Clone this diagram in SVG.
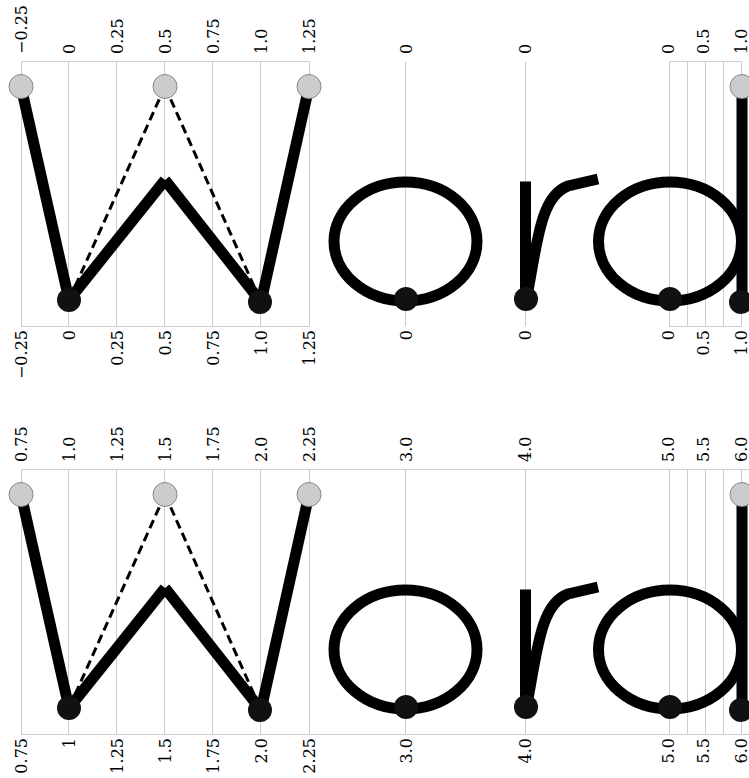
<svg xmlns="http://www.w3.org/2000/svg" width="749" height="778" viewBox="0 0 749 778">
<style>
.grid{stroke:#cccccc;stroke-width:1;fill:none}
.lbl{font-family:"DejaVu Serif","Liberation Serif",serif;font-size:16px;fill:#000}
.top{text-anchor:start}
.bot{text-anchor:end}
.stk{stroke:#000;stroke-width:11;fill:none;stroke-linecap:butt}
.dash{stroke:#000;stroke-width:3;fill:none;stroke-dasharray:9 5}
.dot{fill:#111}
.hnd{fill:#cccccc;stroke:#888;stroke-width:1}
</style>
<defs>
<g id="glyphs">
  <g id="W">
    <line class="dash" x1="165" y1="86.5" x2="69" y2="300"/>
    <line class="dash" x1="165" y1="86.5" x2="261" y2="302"/>
    <line class="stk" x1="21" y1="86.5" x2="69" y2="300"/>
    <line class="stk" x1="69" y1="300" x2="165" y2="180"/>
    <line class="stk" x1="165" y1="180" x2="261" y2="302"/>
    <line class="stk" x1="261" y1="302" x2="309" y2="86.5"/>
    <circle class="hnd" cx="21" cy="86.5" r="12"/>
    <circle class="hnd" cx="165" cy="86.5" r="12"/>
    <circle class="hnd" cx="309" cy="86.5" r="12"/>
    <circle class="dot" cx="69" cy="300" r="12"/>
    <circle class="dot" cx="260" cy="302" r="12"/>
  </g>
  <g id="o">
    <ellipse class="stk" cx="405.5" cy="241.5" rx="71.5" ry="59.5"/>
    <circle class="dot" cx="406" cy="299" r="12"/>
  </g>
  <g id="r">
    <line class="stk" x1="525.5" y1="181.5" x2="525.5" y2="299"/>
    <path class="stk" d="M527 296 C537 245 540 196 568 186 L598 179"/>
    <circle class="dot" cx="526" cy="299" r="12"/>
  </g>
  <g id="d">
    <ellipse class="stk" cx="670" cy="241.5" rx="71.5" ry="59.5"/>
    <line class="stk" x1="742" y1="86.5" x2="742" y2="302"/>
    <circle class="hnd" cx="742" cy="86.5" r="12"/>
    <circle class="dot" cx="670" cy="299" r="12"/>
    <circle class="dot" cx="741" cy="302" r="12"/>
  </g>
</g>
</defs>

<g id="panel-top">
  <g id="grid-top">
    <path class="grid" d="M21.5 61.5H309.5M21.5 326.5H309.5M669.5 61.5H741.5M669.5 326.5H741.5
      M21.5 61.5V326.5M68.5 61.5V326.5M116.5 61.5V326.5M164.5 61.5V326.5M212.5 61.5V326.5M260.5 61.5V326.5M309.5 61.5V326.5
      M405.5 61.5V326.5M525.5 61.5V326.5
      M669.5 61.5V326.5M687.5 61.5V326.5M705.5 61.5V326.5M723.5 61.5V326.5M741.5 61.5V326.5"/>
  </g>
  <g id="labels-top-top" class="lbl top">
    <text transform="translate(27,54) rotate(-90)">−0.25</text>
    <text transform="translate(74.5,54) rotate(-90)">0</text>
    <text transform="translate(122.5,54) rotate(-90)">0.25</text>
    <text transform="translate(170.5,54) rotate(-90)">0.5</text>
    <text transform="translate(218.5,54) rotate(-90)">0.75</text>
    <text transform="translate(266.5,54) rotate(-90)">1.0</text>
    <text transform="translate(315,54) rotate(-90)">1.25</text>
    <text transform="translate(411.5,54) rotate(-90)">0</text>
    <text transform="translate(531,54) rotate(-90)">0</text>
    <text transform="translate(674,54) rotate(-90)">0</text>
    <text transform="translate(709,54) rotate(-90)">0.5</text>
    <text transform="translate(747,54) rotate(-90)">1.0</text>
  </g>
  <g id="labels-top-bottom" class="lbl bot">
    <text transform="translate(27,330) rotate(-90)">−0.25</text>
    <text transform="translate(74.5,330) rotate(-90)">0</text>
    <text transform="translate(122.5,330) rotate(-90)">0.25</text>
    <text transform="translate(170.5,330) rotate(-90)">0.5</text>
    <text transform="translate(218.5,330) rotate(-90)">0.75</text>
    <text transform="translate(266.5,330) rotate(-90)">1.0</text>
    <text transform="translate(315,330) rotate(-90)">1.25</text>
    <text transform="translate(411.5,330) rotate(-90)">0</text>
    <text transform="translate(531,330) rotate(-90)">0</text>
    <text transform="translate(674,330) rotate(-90)">0</text>
    <text transform="translate(709,330) rotate(-90)">0.5</text>
    <text transform="translate(747,330) rotate(-90)">1.0</text>
  </g>
  <use href="#glyphs"/>
</g>

<g id="panel-bottom">
  <g id="grid-bottom">
    <path class="grid" d="M21.5 469.5H749M21.5 734.5H749
      M21.5 469.5V734.5M68.5 469.5V734.5M116.5 469.5V734.5M164.5 469.5V734.5M212.5 469.5V734.5M260.5 469.5V734.5M309.5 469.5V734.5
      M405.5 469.5V734.5M525.5 469.5V734.5
      M669.5 469.5V734.5M687.5 469.5V734.5M705.5 469.5V734.5M723.5 469.5V734.5M741.5 469.5V734.5"/>
  </g>
  <g id="labels-bottom-top" class="lbl top">
    <text transform="translate(27,462) rotate(-90)">0.75</text>
    <text transform="translate(74.5,462) rotate(-90)">1.0</text>
    <text transform="translate(122.5,462) rotate(-90)">1.25</text>
    <text transform="translate(170.5,462) rotate(-90)">1.5</text>
    <text transform="translate(218.5,462) rotate(-90)">1.75</text>
    <text transform="translate(266.5,462) rotate(-90)">2.0</text>
    <text transform="translate(315,462) rotate(-90)">2.25</text>
    <text transform="translate(411.5,462) rotate(-90)">3.0</text>
    <text transform="translate(531,462) rotate(-90)">4.0</text>
    <text transform="translate(674,462) rotate(-90)">5.0</text>
    <text transform="translate(709,462) rotate(-90)">5.5</text>
    <text transform="translate(747,462) rotate(-90)">6.0</text>
  </g>
  <g id="labels-bottom-bottom" class="lbl bot">
    <text transform="translate(27,738) rotate(-90)">0.75</text>
    <text transform="translate(74.5,738) rotate(-90)">1</text>
    <text transform="translate(122.5,738) rotate(-90)">1.25</text>
    <text transform="translate(170.5,738) rotate(-90)">1.5</text>
    <text transform="translate(218.5,738) rotate(-90)">1.75</text>
    <text transform="translate(266.5,738) rotate(-90)">2.0</text>
    <text transform="translate(315,738) rotate(-90)">2.25</text>
    <text transform="translate(411.5,738) rotate(-90)">3.0</text>
    <text transform="translate(531,738) rotate(-90)">4.0</text>
    <text transform="translate(674,738) rotate(-90)">5.0</text>
    <text transform="translate(709,738) rotate(-90)">5.5</text>
    <text transform="translate(747,738) rotate(-90)">6.0</text>
  </g>
  <use href="#glyphs" transform="translate(0,408)"/>
</g>
</svg>
